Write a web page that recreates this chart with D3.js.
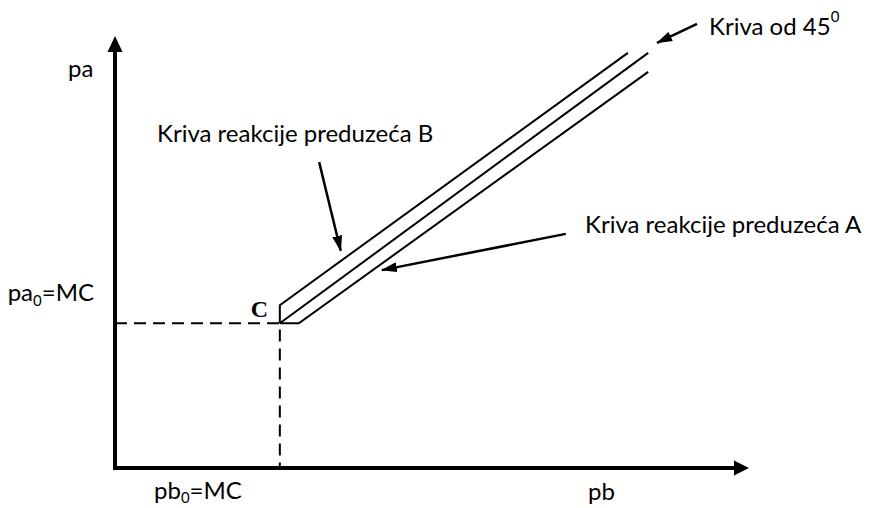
<!DOCTYPE html>
<html>
<head>
<meta charset="utf-8">
<script src="https://cdn.jsdelivr.net/npm/d3@7"></script>
<style>
  html, body { margin: 0; padding: 0; background: #fff; }
  svg text { font-family: Lato, "Open Sans", sans-serif; fill: #000; }
</style>
</head>
<body>
<div id="chart"></div>
<script>
// axis names
var axisNames = ["pb", "pa"];
// the competitive price (marginal cost) on each axis
var mcPoint = [26, 33.5];
// 45 degree curve
var curve45 = [[26, 33.5], [84.1, 96.1]];
// reaction curve of firm B (goes up from C, then diagonal)
var reactionB = [[26, 33.5], [26, 37.7], [80.9, 96.1]];
// reaction curve of firm A (goes right from C, then diagonal)
var reactionA = [[26, 33.5], [29.0, 33.5], [84.1, 91.7]];
// pointer arrows: [from, to]
var arrow45 = [[91.8, 102.8], [85.5, 98.4]];
var arrowB = [[32.2, 70.8], [35.6, 50.3]];
var arrowA = [[71.1, 54.2], [42.1, 45.8]];

var width = 871, height = 508;

var svg = d3.select("#chart").append("svg")
    .attr("width", width)
    .attr("height", height);

var x = d3.scaleLinear().domain([0, 100]).range([115, 749]);
var y = d3.scaleLinear().domain([0, 100]).range([468, 36]);

var line = d3.line()
    .x(function (d) { return x(d[0]); })
    .y(function (d) { return y(d[1]); });

// arrowhead for the pointers
svg.append("defs").append("marker")
    .attr("id", "head")
    .attr("viewBox", "0 0 16 10")
    .attr("refX", 15)
    .attr("refY", 5)
    .attr("markerWidth", 16)
    .attr("markerHeight", 10)
    .attr("markerUnits", "userSpaceOnUse")
    .attr("orient", "auto")
  .append("path")
    .attr("d", "M0,0 L16,5 L0,10 Z")
    .attr("fill", "#000");

// dashed guides to C
svg.append("path")
    .attr("d", line([[0, mcPoint[1]], mcPoint, [mcPoint[0], 0]]))
    .attr("fill", "none")
    .attr("stroke", "#000")
    .attr("stroke-width", 2)
    .attr("stroke-dasharray", "12,7");

// axes
var x0 = x(0), y0 = y(0);
svg.append("line")
    .attr("x1", x0).attr("y1", y0 + 2)
    .attr("x2", x0).attr("y2", y.range()[1] + 14)
    .attr("stroke", "#000").attr("stroke-width", 4);
svg.append("line")
    .attr("x1", x0 - 2).attr("y1", y0)
    .attr("x2", x.range()[1] - 14).attr("y2", y0)
    .attr("stroke", "#000").attr("stroke-width", 4);
svg.append("path")
    .attr("d", "M" + x0 + "," + y.range()[1] + " L" + (x0 + 7.5) + "," + (y.range()[1] + 16) +
               " L" + (x0 - 7.5) + "," + (y.range()[1] + 16) + " Z")
    .attr("fill", "#000");
svg.append("path")
    .attr("d", "M" + x.range()[1] + "," + y0 + " L" + (x.range()[1] - 15) + "," + (y0 - 7.5) +
               " L" + (x.range()[1] - 15) + "," + (y0 + 7.5) + " Z")
    .attr("fill", "#000");

// the three curves
[curve45, reactionB, reactionA].forEach(function (pts) {
  svg.append("path")
      .attr("d", line(pts))
      .attr("fill", "none")
      .attr("stroke", "#000")
      .attr("stroke-width", 2)
      .attr("stroke-linejoin", "miter");
});

// pointer arrows
[arrow45, arrowB, arrowA].forEach(function (a) {
  svg.append("path")
      .attr("d", line(a))
      .attr("stroke", "#000")
      .attr("stroke-width", 2.5)
      .attr("marker-end", "url(#head)");
});

// labels
var fs = 24;
svg.append("text")
    .attr("x", x(arrow45[0][0]) + 12).attr("y", 35)
    .attr("font-size", fs)
    .text("Kriva od 45")
  .append("tspan")
    .attr("dy", -13).attr("font-size", 15)
    .text("0");

svg.append("text")
    .attr("x", 157).attr("y", 142)
    .attr("font-size", fs)
    .text("Kriva reakcije preduzeća B");

svg.append("text")
    .attr("x", 585).attr("y", 233)
    .attr("font-size", fs)
    .text("Kriva reakcije preduzeća A");

svg.append("text")
    .attr("x", 68).attr("y", 77)
    .attr("font-size", fs)
    .text(axisNames[1]);

svg.append("text")
    .attr("x", 588).attr("y", 500)
    .attr("font-size", fs)
    .text(axisNames[0]);

var paLab = svg.append("text")
    .attr("x", x0 - 21).attr("y", y(mcPoint[1]) - 22)
    .attr("text-anchor", "end")
    .attr("font-size", fs);
paLab.append("tspan").text("pa");
paLab.append("tspan").attr("dy", 5).attr("font-size", 15).text("0");
paLab.append("tspan").attr("dy", -5).text("=MC");

var pbLab = svg.append("text")
    .attr("x", 154).attr("y", 499)
    .attr("font-size", fs);
pbLab.append("tspan").text("pb");
pbLab.append("tspan").attr("dy", 4).attr("font-size", 15).text("0");
pbLab.append("tspan").attr("dy", -4).text("=MC");

svg.append("text")
    .attr("x", x(mcPoint[0]) - 29).attr("y", y(mcPoint[1]) - 6)
    .attr("font-weight", "bold")
    .attr("font-size", 24)
    .style("font-family", "'Liberation Serif', serif")
    .text("C");
</script>
</body>
</html>
